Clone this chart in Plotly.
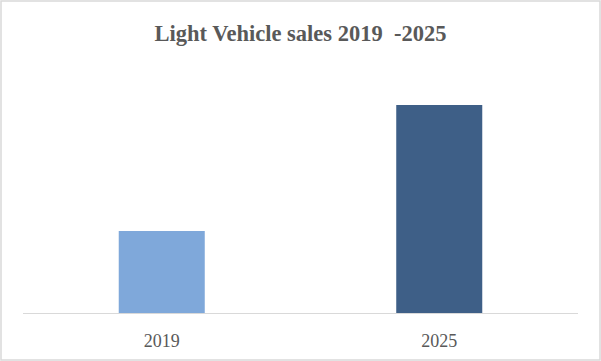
import plotly.graph_objects as go

categories = ["2019", "2025"]
values = [82, 208]
bar_colors = ["#7FA8DA", "#3E5F87"]
title_text = "Light Vehicle sales 2019  -2025"

W, H = 601, 361
ml, mr, mt, mb = 23, 23, 60, 48
pw, ph = W - ml - mr, H - mt - mb

fig = go.Figure(go.Bar(x=categories, y=values, marker=dict(color=bar_colors, line=dict(width=0)), width=0.31))

fig.update_layout(
    width=W, height=H,
    margin=dict(l=ml, r=mr, t=mt, b=mb),
    paper_bgcolor="white", plot_bgcolor="white",
    showlegend=False,
    title=dict(text="<b>" + title_text + "</b>", x=0.5, xanchor="center", y=1 - 33 / H, yanchor="middle",
               font=dict(family="Liberation Serif", size=22.5, color="#595959")),
    xaxis=dict(showline=True, linecolor="#D9D9D9", linewidth=1, ticks="", showgrid=False,
               ticklabelstandoff=11, automargin=False,
               tickfont=dict(family="Liberation Serif", size=18, color="#595959")),
    yaxis=dict(range=[0, ph], visible=False, showgrid=False, zeroline=False, automargin=False),
    shapes=[dict(type="rect", xref="paper", yref="paper",
                 x0=(-ml + 1) / pw, x1=(pw + mr - 1) / pw,
                 y0=(-mb + 1) / ph, y1=(ph + mt - 1) / ph,
                 line=dict(color="#D9D9D9", width=1.5), layer="below")],
)

fig.write_html("out.html", config={"displayModeBar": False},
               post_script="document.body.style.margin='0';document.body.style.padding='0';")
